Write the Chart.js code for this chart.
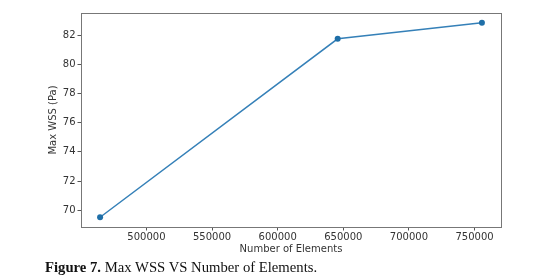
<!DOCTYPE html>
<html>
<head>
<meta charset="utf-8">
<script src="https://cdn.jsdelivr.net/npm/chart.js@4"></script>
<style>
  body { margin: 0; background: #fff; }
  #wrap { position: relative; width: 556px; height: 280px; }
  #caption {
    position: absolute; left: 45px; top: 259px;
    font-family: "Liberation Serif", "Times New Roman", serif;
    font-size: 14.7px; color: #111; white-space: nowrap;
  }
</style>
</head>
<body>
<div id="wrap">
  <canvas id="chart" width="556" height="280"></canvas>
  <div id="caption"><b>Figure 7.</b> Max WSS VS Number of Elements.</div>
</div>
<script>
// data
const elements = [464700, 645700, 755600];
const maxWss = [69.52, 81.75, 82.85];
const xTicks = [500000, 550000, 600000, 650000, 700000, 750000];
const yTicks = [70, 72, 74, 76, 78, 80, 82];

const lineBlue = "#3580b8";
const tickFont = { family: "DejaVu Sans", size: 10 };

// box around the plot area, like matplotlib spines
const frame = {
    id: "frame",
    afterDraw(chart) {
        const { ctx, chartArea: a } = chart;
        ctx.save();
        ctx.strokeStyle = "#777";
        ctx.lineWidth = 1;
        ctx.strokeRect(a.left + 0.5, a.top + 0.5, a.right - a.left, a.bottom - a.top);
        ctx.restore();
    }
};

new Chart(document.getElementById("chart").getContext("2d"), {
    type: "line",
    data: {
        datasets: [{
            data: elements.map((x, i) => ({ x: x, y: maxWss[i] })),
            borderColor: lineBlue,
            backgroundColor: "#1f6fa8",
            borderWidth: 1.5,
            pointRadius: 3,
            pointBorderWidth: 0,
            tension: 0
        }]
    },
    options: {
        responsive: false,
        animation: false,
        layout: { padding: { top: 13, right: 55, bottom: 23, left: 0 } },
        plugins: { legend: { display: false }, tooltip: { enabled: false } },
        scales: {
            x: {
                type: "linear",
                min: 450155,
                max: 770145,
                afterBuildTicks: (s) => { s.ticks = xTicks.map(v => ({ value: v })); },
                afterFit: (s) => { s.height = 30; },
                grid: { drawOnChartArea: false, tickLength: 3.5, tickColor: "#555" },
                border: { display: false },
                ticks: { font: tickFont, color: "#333", padding: 1, maxRotation: 0,
                         callback: (v) => String(v) },
                title: { display: true, text: "Number of Elements", font: tickFont,
                         color: "#333", padding: { top: 0, bottom: 2 } }
            },
            y: {
                min: 68.85,
                max: 83.52,
                afterBuildTicks: (s) => { s.ticks = yTicks.map(v => ({ value: v })); },
                afterFit: (s) => { s.width = 81; },
                grid: { drawOnChartArea: false, tickLength: 3.5, tickColor: "#555" },
                border: { display: false },
                ticks: { font: tickFont, color: "#333", padding: 2 },
                title: { display: true, text: "Max WSS (Pa)", font: tickFont,
                         color: "#333", padding: { top: 47, bottom: 0 } }
            }
        }
    },
    plugins: [frame]
});
</script>
</body>
</html>
